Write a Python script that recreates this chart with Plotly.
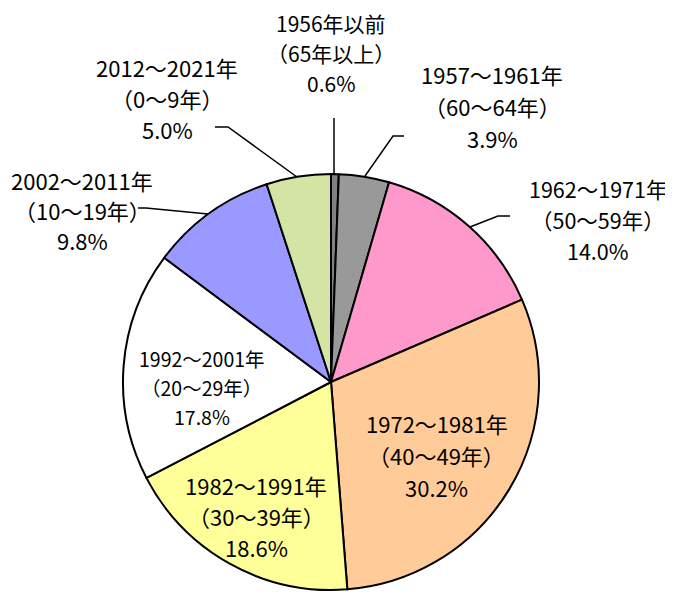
import plotly.graph_objects as go

# ---- data ----
periods = ["1956年以前", "1957～1961年", "1962～1971年", "1972～1981年",
           "1982～1991年", "1992～2001年", "2002～2011年", "2012～2021年"]
ages = ["（65年以上）", "（60～64年）", "（50～59年）", "（40～49年）",
        "（30～39年）", "（20～29年）", "（10～19年）", "（0～9年）"]
shares = [0.6, 3.9, 14.0, 30.2, 18.6, 17.8, 9.8, 5.0]
colors = ["#808080", "#999999", "#FF99CC", "#FFCC99",
          "#FFFF99", "#FFFFFF", "#9999FF", "#D3E4A4"]

W, H = 673, 595
FONT = "Noto Sans CJK JP"
OFF = 8  # page body margin

# pie placement (pixels in the screenshot)
cx, cy, r = 331, 382, 208

# label block centres (pixels) and font sizes, per slice
label_x = [331, 492, 598, 437, 256, 202, 82, 167]
label_y0 = [23, 74, 188, 423, 485, 358, 180, 67]
line_gap = [30, 32, 31, 32, 31, 29, 30, 31]
font_sz = [21, 22, 21.5, 22, 22, 19.5, 22, 22]

# leader lines (pixels)
leaders = {
    0: [(334, 118), (334, 175)],
    1: [(404, 136), (393, 136), (365, 176)],
    2: [(510, 216), (498, 216), (470, 227)],
    6: [(138, 208), (146, 208), (208, 214)],
    7: [(215, 127), (228, 127), (297, 177)],
}


def px(x):
    return (x - OFF) / W


def py(y):
    return 1 - (y - OFF) / H


fig = go.Figure()
fig.add_trace(go.Pie(
    labels=periods,
    values=shares,
    sort=False,
    direction="clockwise",
    rotation=0,
    marker=dict(colors=colors, line=dict(color="black", width=2)),
    textinfo="none",
    hoverinfo="label+percent",
    showlegend=False,
    domain=dict(x=[px(cx - r), px(cx + r)], y=[py(cy + r), py(cy - r)]),
))

annotations = []
for i in range(len(periods)):
    lines = [periods[i], ages[i], f"{shares[i]:.1f}%"]
    for k, t in enumerate(lines):
        annotations.append(dict(
            x=px(label_x[i]), y=py(label_y0[i] + k * line_gap[i]),
            xref="paper", yref="paper", text=t, showarrow=False,
            xanchor="center", yanchor="middle", borderpad=0,
            font=dict(family=FONT, size=font_sz[i], color="black"),
        ))

shapes = []
for pts in leaders.values():
    path = "M " + " L ".join(f"{px(x)},{py(y)}" for x, y in pts)
    shapes.append(dict(type="path", path=path, xref="paper", yref="paper",
                       line=dict(color="black", width=1.5)))

fig.update_layout(
    width=W, height=H,
    margin=dict(l=0, r=0, t=0, b=0),
    paper_bgcolor="white", plot_bgcolor="white",
    annotations=annotations, shapes=shapes,
    font=dict(family=FONT),
)

fig.write_html("out.html")
